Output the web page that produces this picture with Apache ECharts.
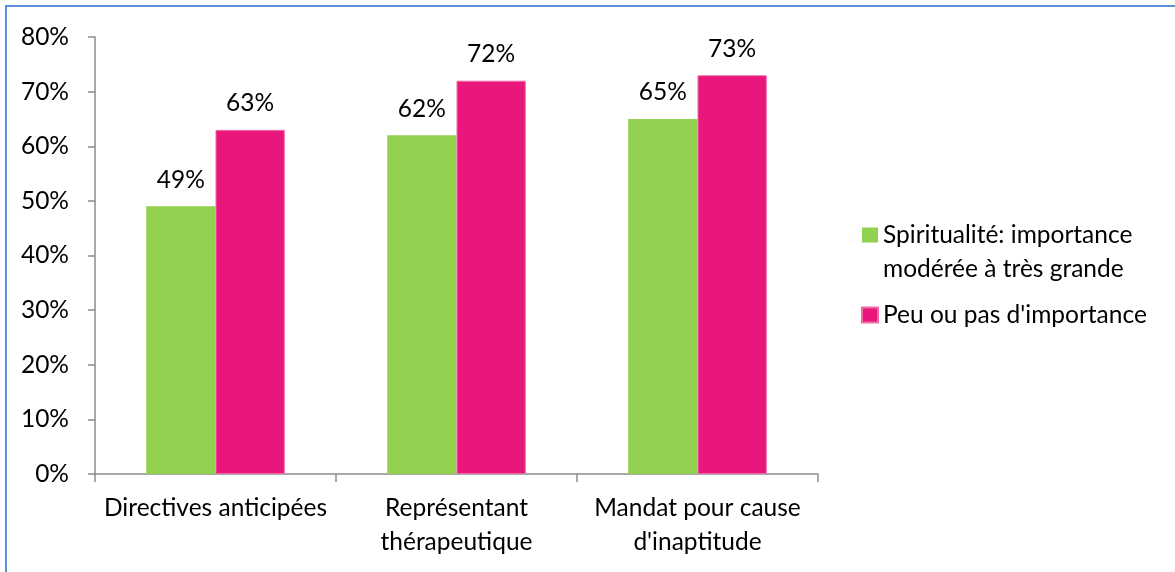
<!DOCTYPE html>
<html>
<head>
<meta charset="utf-8">
<script src="https://cdn.jsdelivr.net/npm/echarts@6/dist/echarts.min.js"></script>
<style>
  html, body { margin: 0; padding: 0; background: #fff; }
  #chart { width: 1175px; height: 572px; }
</style>
</head>
<body>
<div id="chart"></div>
<script>
// Categories and series values (percent)
const categories = ['Directives anticipées', 'Représentant\nthérapeutique', 'Mandat pour cause\nd\'inaptitude'];
const seriesNames = ['Spiritualité: importance\nmodérée à très grande', 'Peu ou pas d\'importance'];
const spiritualiteValues = [49, 62, 65];
const peuValues = [63, 72, 73];
const yTicks = { min: 0, max: 80, interval: 10 };

const FONT = 'Lato, sans-serif';
const FS = 24.5;
const GREEN = '#92D050';
const PINK = '#E9177B';
const AXIS = '#8C8C8C';

const chart = echarts.init(document.getElementById('chart'), null, { renderer: 'canvas' });

const labelStyle = {
  show: true,
  position: 'top',
  distance: 14,
  formatter: p => p.value + '%',
  color: '#000',
  fontFamily: FONT,
  fontSize: FS
};

chart.setOption({
  animation: false,
  backgroundColor: '#fff',
  graphic: [{
    type: 'rect',
    shape: { x: 6, y: 6, width: 1400, height: 800 },
    style: { fill: 'none', stroke: '#5B8FD8', lineWidth: 2 },
    silent: true
  }],
  grid: { left: 95, right: 357, top: 37, bottom: 98, containLabel: false },
  legend: {
    data: seriesNames,
    orient: 'vertical',
    left: 861,
    top: 184,
    padding: 0,
    icon: 'rect',
    itemWidth: 16,
    itemHeight: 15,
    itemGap: 12,
    // a leading blank line keeps the square marker level with the first line of a two-line entry
    formatter: name => (name.indexOf('\n') >= 0 ? '\n' + name : name),
    textStyle: { color: '#000', fontFamily: FONT, fontSize: FS, lineHeight: 34 }
  },
  xAxis: {
    type: 'category',
    data: categories,
    axisLine: { lineStyle: { color: AXIS, width: 1.5 } },
    axisTick: { show: true, length: 8, alignWithLabel: false, lineStyle: { color: AXIS, width: 1.5 } },
    axisLabel: {
      color: '#000', fontFamily: FONT, fontSize: FS, lineHeight: 34, margin: 17, interval: 0
    }
  },
  yAxis: {
    type: 'value',
    min: yTicks.min,
    max: yTicks.max,
    interval: yTicks.interval,
    splitLine: { show: false },
    axisLine: { show: true, lineStyle: { color: AXIS, width: 1.5 } },
    axisTick: { show: true, length: 7, lineStyle: { color: AXIS, width: 1.5 } },
    axisLabel: {
      color: '#000', fontFamily: FONT, fontSize: FS, margin: 26,
      formatter: v => v + '%'
    }
  },
  series: [
    {
      name: seriesNames[0],
      type: 'bar',
      data: spiritualiteValues,
      itemStyle: { color: GREEN },
      barGap: '0%',
      barCategoryGap: '42.5%',
      label: labelStyle
    },
    {
      name: seriesNames[1],
      type: 'bar',
      data: peuValues,
      itemStyle: { color: PINK, borderColor: '#F06AA8', borderWidth: 1 },
      barGap: '0%',
      barCategoryGap: '42.5%',
      label: labelStyle
    }
  ]
});
</script>
</body>
</html>
